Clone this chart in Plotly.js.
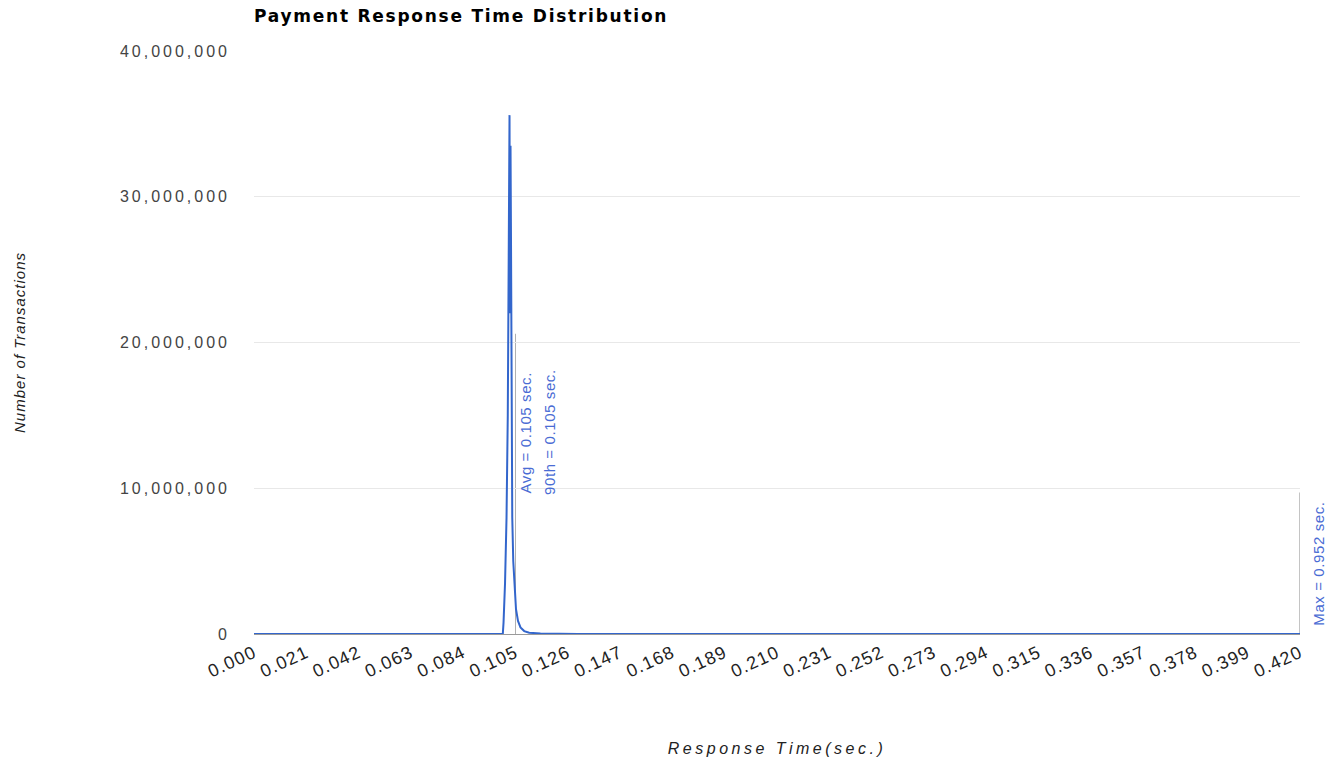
<!DOCTYPE html>
<html>
<head>
<meta charset="utf-8">
<script src="https://cdn.plot.ly/plotly-3.0.1.min.js"></script>
<style>
  html, body { margin: 0; padding: 0; background: #fff; }
  #chart { width: 1341px; height: 763px; }
  .ytick text { letter-spacing: 3px; }
  .xtick text { letter-spacing: 1.2px; }
  .gtitle { letter-spacing: 1.75px; }
  .xtitle { letter-spacing: 3.5px; }
  .ytitle { letter-spacing: 1px; }
  .annotation-text { letter-spacing: 0.6px; }
</style>
</head>
<body>
<div id="chart"></div>
<script>
// Response time (sec.) and transaction counts
const responseTime = [0.000, 0.0999, 0.1002, 0.1008, 0.1014, 0.1019, 0.1023, 0.1026, 0.1028, 0.1030, 0.1032, 0.1034, 0.1037, 0.1041, 0.1046, 0.1052, 0.1060, 0.1070, 0.1085, 0.1105, 0.1150, 0.1300, 0.4200];
const transactions = [0, 0, 800000, 3500000, 8000000, 15000000, 26700000, 35600000, 22000000, 33500000, 26700000, 14000000, 8000000, 5000000, 3000000, 1700000, 900000, 450000, 200000, 90000, 30000, 8000, 0];

const xTickVals = [0.000, 0.021, 0.042, 0.063, 0.084, 0.105, 0.126, 0.147, 0.168, 0.189, 0.210, 0.231, 0.252, 0.273, 0.294, 0.315, 0.336, 0.357, 0.378, 0.399, 0.420];
const xTickText = ["0.000", "0.021", "0.042", "0.063", "0.084", "0.105", "0.126", "0.147", "0.168", "0.189", "0.210", "0.231", "0.252", "0.273", "0.294", "0.315", "0.336", "0.357", "0.378", "0.399", "0.420"];
const yTickVals = [0, 10000000, 20000000, 30000000, 40000000];

// Marker lines: avg, 90th percentile, max (max is off-scale, drawn at right edge)
const avgValue = 0.105;
const p90Value = 0.105;
const maxValue = 0.952;
const markerLabels = ["Avg = 0.105 sec.", "90th = 0.105 sec.", "Max = 0.952 sec."];

const xMax = 0.420;
const blue = "#3366cc";
const labelBlue = "#4a6cd4";

const trace = {
  x: responseTime,
  y: transactions,
  type: "scatter",
  mode: "lines",
  line: { color: blue, width: 2 },
  hoverinfo: "x+y",
  showlegend: false
};

const layout = {
  width: 1341,
  height: 763,
  margin: { l: 254, r: 41, t: 51, b: 129 },
  paper_bgcolor: "#ffffff",
  plot_bgcolor: "#ffffff",
  title: {
    text: "<b>Payment Response Time Distribution</b>",
    x: 0, xanchor: "left", xref: "paper",
    y: 1 - 16 / 763, yanchor: "middle",
    font: { family: "DejaVu Sans, Liberation Sans, Arial, sans-serif", size: 17, color: "#000000" }
  },
  font: { family: "Liberation Sans, Arial, sans-serif", color: "#444444" },
  xaxis: {
    range: [0, xMax],
    tickmode: "array",
    tickvals: xTickVals,
    ticktext: xTickText,
    tickangle: -25,
    tickfont: { size: 18, color: "#222222" },
    ticklabelstandoff: 4,
    showgrid: false,
    zeroline: false,
    showline: false,
    ticks: "",
    ticklen: 0,
    automargin: false,
    title: {
      text: "<i>Response Time(sec.)</i>",
      font: { size: 16, color: "#222222" },
      standoff: 62
    }
  },
  yaxis: {
    range: [0, 40000000],
    tickmode: "array",
    tickvals: yTickVals,
    tickformat: ",d",
    tickfont: { size: 16, color: "#444444" },
    ticklabelstandoff: 23,
    showgrid: true,
    gridcolor: "#e8e8e8",
    gridwidth: 1,
    zeroline: true,
    zerolinecolor: "#9a9a9a",
    zerolinewidth: 1,
    ticks: "",
    automargin: false,
    title: {
      text: "<i>Number of Transactions</i>",
      font: { size: 15, color: "#222222" },
      standoff: 90
    }
  },
  shapes: [
    { type: "line", xref: "x", yref: "y", x0: avgValue, x1: avgValue, y0: 0, y1: 20600000, line: { color: "#b0b0b0", width: 1 }, layer: "below" },
    { type: "line", xref: "x", yref: "y", x0: xMax, x1: xMax, y0: 0, y1: 9700000, line: { color: "#b0b0b0", width: 1.5 }, layer: "below" }
  ],
  annotations: [
    { x: avgValue, y: 9500000, xref: "x", yref: "y", text: markerLabels[0], textangle: -90, showarrow: false, xanchor: "left", yanchor: "bottom", xshift: 0, font: { size: 15, color: labelBlue } },
    { x: p90Value, y: 9400000, xref: "x", yref: "y", text: markerLabels[1], textangle: -90, showarrow: false, xanchor: "left", yanchor: "bottom", xshift: 23, font: { size: 15, color: labelBlue } },
    { x: xMax, y: 400000, xref: "x", yref: "y", text: markerLabels[2], textangle: -90, showarrow: false, xanchor: "left", yanchor: "bottom", xshift: 8, font: { size: 15, color: labelBlue } }
  ]
};

Plotly.newPlot("chart", [trace], layout, { displayModeBar: false, staticPlot: false });
</script>
</body>
</html>
